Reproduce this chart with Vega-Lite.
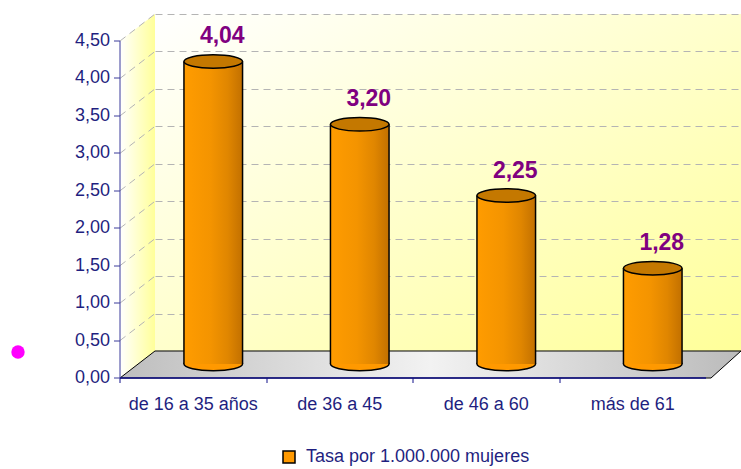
{
  "$schema": "https://vega.github.io/schema/vega-lite/v6.json",
  "width": 586,
  "height": 337,
  "autosize": {"type": "none"},
  "padding": {"left": 155, "top": 14, "right": 0, "bottom": 118},
  "background": "white",
  "view": {
    "stroke": null,
    "fill": {"gradient": "linear", "x1": 0, "y1": 0, "x2": 1, "y2": 1,
      "stops": [{"offset": 0, "color": "#FFFFFF"}, {"offset": 0.5, "color": "#FFFFCC"}, {"offset": 1, "color": "#FFFF99"}]}
  },
  "config": {
    "locale": {"number": {"decimal": ",", "thousands": ".", "grouping": [3], "currency": ["", " €"]}},
    "font": "Liberation Sans"
  },
  "datasets": {
    "tasas": [
      {"grupo": "de 16 a 35 años", "tasa": 4.04, "serie": "Tasa por 1.000.000 mujeres"},
      {"grupo": "de 36 a 45", "tasa": 3.20, "serie": "Tasa por 1.000.000 mujeres"},
      {"grupo": "de 46 a 60", "tasa": 2.25, "serie": "Tasa por 1.000.000 mujeres"},
      {"grupo": "más de 61", "tasa": 1.28, "serie": "Tasa por 1.000.000 mujeres"}
    ],
    "uno": [{}]
  },
  "layer": [
    {
      "data": {"name": "uno"},
      "mark": {"type": "point", "shape": "M-0.0962,-0.8516L0.0962,-1L0.0962,0.8516L-0.0962,1Z", "size": 132496, "filled": true, "opacity": 1,
        "fill": {"gradient": "linear", "x1": 0, "y1": 0, "x2": 1, "y2": 0, "stops": [{"offset": 0, "color": "#FFFFFF"}, {"offset": 1, "color": "#FFFF99"}]},
        "strokeWidth": 0, "xOffset": -310.5, "yOffset": 13.5},
      "encoding": {"y": {"datum": 2.25, "type": "quantitative", "scale": {"domain": [0, 4.5], "nice": false}, "axis": null}}
    },
    {
      "data": {"name": "uno"},
      "mark": {"type": "point", "shape": "M-0.0962,0.7943L0.0962,0.6459M-0.0962,0.5885L0.0962,0.4402M-0.0962,0.3828L0.0962,0.2344M-0.0962,0.177L0.0962,0.0287M-0.0962,-0.0287L0.0962,-0.177M-0.0962,-0.2344L0.0962,-0.3828M-0.0962,-0.4402L0.0962,-0.5885M-0.0962,-0.6459L0.0962,-0.7943M-0.0962,-0.8516L0.0962,-1", "size": 132496, "filled": false, "opacity": 1,
        "stroke": "#B4B4B4", "strokeWidth": 1, "strokeDash": [7, 5], "xOffset": -310.5, "yOffset": 13.5},
      "encoding": {"y": {"datum": 2.25, "type": "quantitative", "scale": {"domain": [0, 4.5], "nice": false}, "axis": null}}
    },
    {
      "data": {"name": "uno"},
      "mark": {"type": "point", "shape": "M-1,0.0435L0.9034,0.0435L1,-0.0435L-0.8873,-0.0435Z", "size": 385641, "filled": true, "opacity": 1,
        "fill": {"gradient": "linear", "x1": 0, "y1": 0, "x2": 1, "y2": 0, "stops": [{"offset": 0, "color": "#BEBEBE"}, {"offset": 0.5, "color": "#F2F2F2"}, {"offset": 1, "color": "#BBBBBB"}]},
        "stroke": "black", "strokeWidth": 1, "xOffset": -17.5, "yOffset": 13.5},
      "encoding": {"y": {"datum": 0, "type": "quantitative", "scale": {"domain": [0, 4.5], "nice": false}, "axis": null}}
    },
    {
      "data": {"name": "uno"},
      "mark": {"type": "point", "shape": "circle", "size": 180, "filled": true, "opacity": 1, "fill": "#FF00FF", "strokeWidth": 0, "xOffset": -430, "yOffset": 1},
      "encoding": {"y": {"datum": 0, "type": "quantitative", "scale": {"domain": [0, 4.5], "nice": false}, "axis": null}}
    },
    {
      "data": {"name": "tasas"},
      "mark": {"type": "point", "shape": "M-1,0A1,0.23,0,1,1,1,0A1,0.23,0,1,1,-1,0Z", "size": 3434, "filled": true, "opacity": 1,
        "stroke": "black", "strokeWidth": 1.5, "xOffset": -15, "yOffset": 13},
      "encoding": {
        "x": {"field": "grupo", "type": "nominal", "sort": null, "scale": {"paddingInner": 0.6, "paddingOuter": 0.3}},
        "y": {"datum": 0, "type": "quantitative", "scale": {"domain": [0, 4.5], "nice": false}, "axis": null},
        "color": {"field": "serie", "type": "nominal", "scale": {"range": ["#FF9900"]},
          "legend": {"title": null, "orient": "none", "legendX": 125, "legendY": 434, "padding": 0, "symbolType": "square", "symbolSize": 144,
            "symbolStrokeColor": "black", "symbolStrokeWidth": 1.5, "labelFont": "Liberation Sans", "labelFontSize": 18, "labelColor": "#1F1F80", "labelOffset": 8, "labelLimit": 400}}
      }
    },
    {
      "data": {"name": "tasas"},
      "mark": {"type": "bar", "strokeWidth": 0, "xOffset": -15, "yOffset": 13, "y2Offset": 13,
        "fill": {"gradient": "linear", "x1": 0, "y1": 0, "x2": 1, "y2": 0,
          "stops": [{"offset": 0, "color": "#FF9C00"}, {"offset": 0.45, "color": "#F49400"}, {"offset": 0.75, "color": "#E08600"}, {"offset": 1, "color": "#C27000"}]}},
      "encoding": {
        "x": {"field": "grupo", "type": "nominal", "sort": null, "scale": {"paddingInner": 0.6, "paddingOuter": 0.3},
          "axis": {"title": null, "labelAngle": 0, "labelAlign": "center", "tickOffset": -73.25, "labelOffset": 73.25, "translate": -35, "offset": 62, "zindex": 1,
            "labelFont": "Liberation Sans", "labelFontSize": 18, "labelColor": "#1F1F80", "labelPadding": 13, "labelOverlap": false, "labelBaseline": "top",
            "tickSize": 5, "tickColor": "#10108A", "domainColor": "#10108A", "domainWidth": 1.5, "grid": false}},
        "y": {"field": "tasa", "type": "quantitative", "scale": {"domain": [0, 4.5], "nice": false},
          "axis": {"orient": "left", "title": null, "values": [0, 0.5, 1, 1.5, 2, 2.5, 3, 3.5, 4, 4.5], "grid": true, "gridDash": [7, 5], "gridColor": "#B4B4B4", "gridWidth": 1,
            "labels": false, "ticks": false, "domain": false, "zindex": 0}}
      }
    },
    {
      "data": {"name": "tasas"},
      "mark": {"type": "rule", "stroke": "black", "strokeWidth": 1.5, "xOffset": -44.3, "yOffset": 13, "y2Offset": 13},
      "encoding": {
        "x": {"field": "grupo", "type": "nominal", "sort": null, "scale": {"paddingInner": 0.6, "paddingOuter": 0.3}},
        "y": {"field": "tasa", "type": "quantitative", "scale": {"domain": [0, 4.5], "nice": false}, "axis": null},
        "y2": {"datum": 0}
      }
    },
    {
      "data": {"name": "tasas"},
      "mark": {"type": "rule", "stroke": "black", "strokeWidth": 1.5, "xOffset": 14.3, "yOffset": 13, "y2Offset": 13},
      "encoding": {
        "x": {"field": "grupo", "type": "nominal", "sort": null, "scale": {"paddingInner": 0.6, "paddingOuter": 0.3}},
        "y": {"field": "tasa", "type": "quantitative", "scale": {"domain": [0, 4.5], "nice": false}, "axis": null},
        "y2": {"datum": 0}
      }
    },
    {
      "data": {"name": "tasas"},
      "mark": {"type": "point", "shape": "M-1,0A1,0.23,0,1,1,1,0A1,0.23,0,1,1,-1,0Z", "size": 3434, "filled": true, "opacity": 1,
        "fill": "#C47800", "stroke": "black", "strokeWidth": 1.5, "xOffset": -15, "yOffset": 13},
      "encoding": {
        "x": {"field": "grupo", "type": "nominal", "sort": null, "scale": {"paddingInner": 0.6, "paddingOuter": 0.3}},
        "y": {"field": "tasa", "type": "quantitative", "scale": {"domain": [0, 4.5], "nice": false}, "axis": null}
      }
    },
    {
      "data": {"name": "tasas"},
      "mark": {"type": "text", "font": "Liberation Sans", "fontWeight": "bold", "fontSize": 23, "fill": "#800080", "baseline": "middle", "align": "center", "xOffset": -6, "yOffset": -12},
      "encoding": {
        "x": {"field": "grupo", "type": "nominal", "sort": null, "scale": {"paddingInner": 0.6, "paddingOuter": 0.3}},
        "y": {"field": "tasa", "type": "quantitative", "scale": {"domain": [0, 4.5], "nice": false},
          "axis": {"orient": "left", "title": null, "values": [0, 0.5, 1, 1.5, 2, 2.5, 3, 3.5, 4, 4.5], "format": ".2f", "grid": false,
            "translate": 27, "offset": 62, "zindex": 1, "labelFont": "Liberation Sans", "labelFontSize": 18, "labelColor": "#1F1F80", "labelPadding": 4,
            "tickSize": 6, "tickColor": "#3A3A9A", "domainColor": "#3A3A9A", "domainWidth": 1}},
        "text": {"field": "tasa", "type": "quantitative", "format": ".2f"}
      }
    }
  ],
  "resolve": {"axis": {"y": "independent"}}
}
